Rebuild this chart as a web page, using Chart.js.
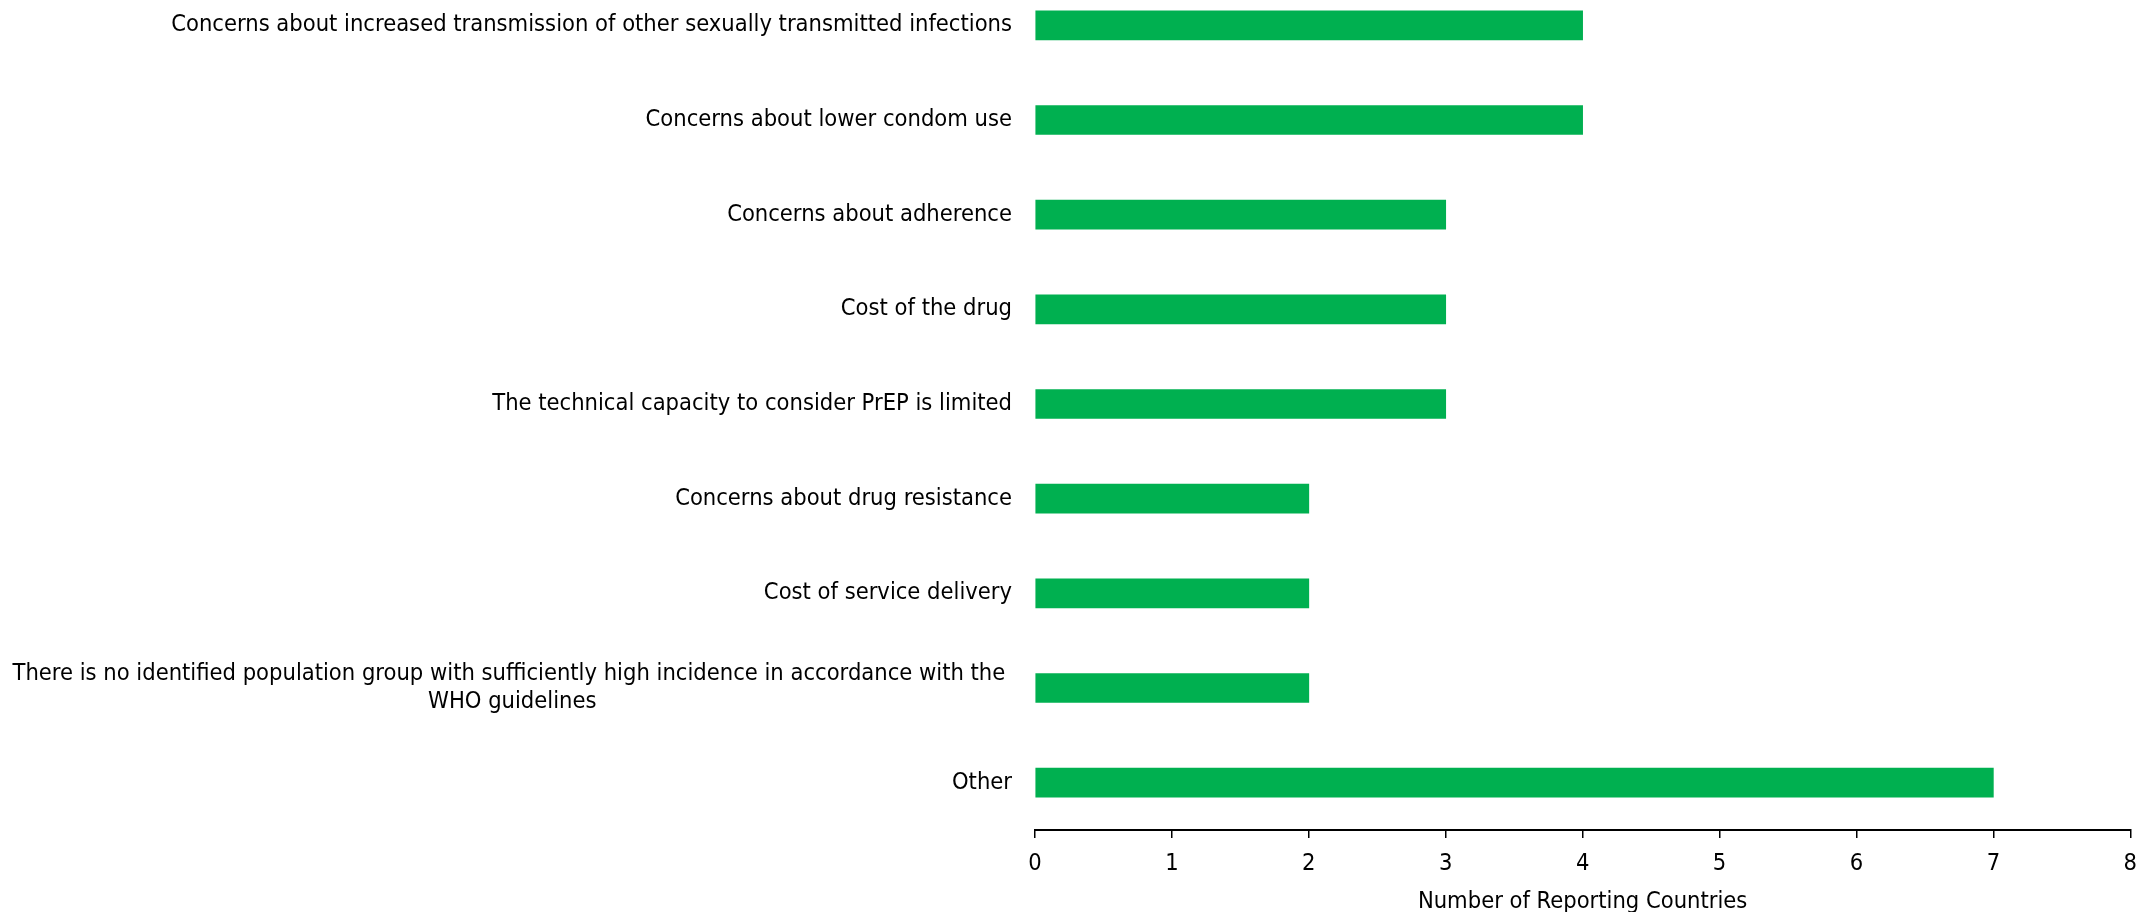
<!DOCTYPE html>
<html>
<head>
<meta charset="utf-8">
<title>Reasons for not considering PrEP</title>
<script src="https://cdn.jsdelivr.net/npm/chart.js@4/dist/chart.umd.min.js"></script>
<style>
  html, body { margin: 0; padding: 0; background: #ffffff; }
  #wrap { width: 2149px; height: 912px; position: relative; }
</style>
</head>
<body>
<div id="wrap"><canvas id="chart"></canvas></div>
<script>
// Reasons reported, top to bottom
const categories = [
  'Concerns about increased transmission of other sexually transmitted infections',
  'Concerns about lower condom use',
  'Concerns about adherence',
  'Cost of the drug',
  'The technical capacity to consider PrEP is limited',
  'Concerns about drug resistance',
  'Cost of service delivery',
  ['There is no identified population group with sufficiently high incidence in accordance with the ', 'WHO guidelines'],
  'Other'
];
// Number of reporting countries per reason
const countries = [4, 4, 3, 3, 3, 2, 2, 2, 7];
// Value axis range
const axisMin = 0;
const axisMax = 8;
const axisStep = 1;
const axisTitle = 'Number of Reporting Countries';

const FONT = '"DejaVu Sans Condensed", "DejaVu Sans", sans-serif';
const FONT_SIZE = 23.5;

// Let the category band run a little above the canvas so the first bar sits near the top edge
const bandOverflow = {
  id: 'bandOverflow',
  afterLayout(chart) {
    const y = chart.scales.y;
    const top = -22;
    chart.chartArea.top = top;
    chart.chartArea.height = chart.chartArea.bottom - top;
    y.top = top;
    y.height = y.bottom - top;
    y.configure();
  }
};

// Category labels: right-aligned next to the axis, wrapped lines centred on each other
const categoryLabels = {
  id: 'categoryLabels',
  afterDraw(chart) {
    const { ctx } = chart;
    const yScale = chart.scales.y;
    const rightEdge = chart.chartArea.left - 23;
    const lineH = 28.3;
    ctx.save();
    ctx.font = FONT_SIZE + 'px ' + FONT;
    ctx.fillStyle = '#000000';
    ctx.textAlign = 'center';
    ctx.textBaseline = 'middle';
    chart.data.labels.forEach((lab, i) => {
      const lines = Array.isArray(lab) ? lab : [lab];
      const widest = Math.max(...lines.map(l => ctx.measureText(l).width));
      const cx = rightEdge - widest / 2;
      const cy = yScale.getPixelForTick(i);
      const y0 = cy - (lines.length - 1) * lineH / 2;
      lines.forEach((l, k) => ctx.fillText(l, cx, y0 + k * lineH));
    });
    ctx.restore();
  }
};

new Chart(document.getElementById('chart'), {
  type: 'bar',
  data: {
    labels: categories,
    datasets: [{
      data: countries,
      backgroundColor: '#00B050',
      borderWidth: 0,
      barThickness: 29
    }]
  },
  options: {
    indexAxis: 'y',
    responsive: true,
    maintainAspectRatio: false,
    animation: false,
    layout: { padding: { top: 0, right: 13, bottom: 0, left: 0 } },
    plugins: {
      legend: { display: false },
      tooltip: { enabled: false }
    },
    scales: {
      y: {
        type: 'category',
        offset: true,
        ticks: { display: false },
        grid: { display: false },
        border: { display: false },
        afterFit(scale) { scale.width = 1035; }
      },
      x: {
        type: 'linear',
        position: 'bottom',
        min: axisMin,
        max: axisMax,
        ticks: {
          stepSize: axisStep,
          padding: 12,
          color: '#000000',
          font: { family: FONT, size: FONT_SIZE }
        },
        grid: {
          display: true,
          drawOnChartArea: false,
          drawTicks: true,
          tickLength: 8,
          color: '#000000',
          lineWidth: 1.5
        },
        border: { display: true, color: '#000000', width: 2 },
        title: {
          display: true,
          text: axisTitle,
          color: '#000000',
          font: { family: FONT, size: FONT_SIZE },
          padding: { top: 0, bottom: -4 }
        },
        afterFit(scale) { scale.height = 82; }
      }
    }
  },
  plugins: [bandOverflow, categoryLabels]
});
</script>
</body>
</html>
